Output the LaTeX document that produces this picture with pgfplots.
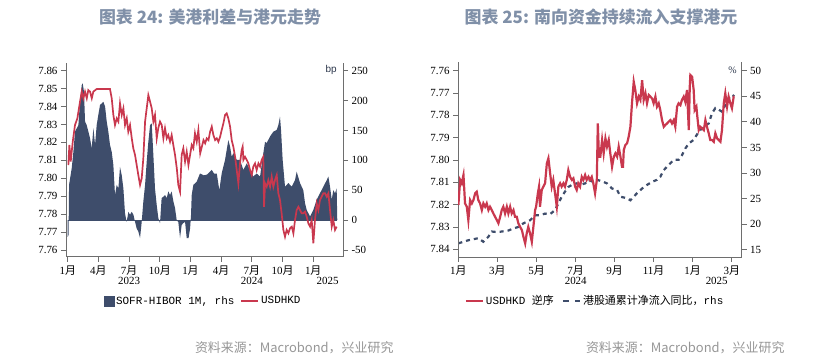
\documentclass[border=0pt]{standalone}
\usepackage{pgfplots}
\pgfplotsset{compat=1.18}
\usepackage{fontspec}
\setmainfont{Liberation Serif}
\setmonofont{Liberation Mono}
\newfontfamily\cjk{Noto Sans CJK SC}
\newfontfamily\lsans{Liberation Sans}
\definecolor{navy}{RGB}{62,77,107}
\definecolor{hkred}{RGB}{201,56,78}
\definecolor{axgray}{RGB}{110,110,110}
\definecolor{titlec}{RGB}{128,144,168}
\definecolor{srcgray}{RGB}{150,150,150}
\newcommand{\yue}{{\cjk 月}}
\pgfplotsset{
  base/.style={scale only axis, tick align=outside, major tick length=5bp,
    axis line style={axgray, line width=1bp},
    tick style={axgray, line width=1bp},
    tick label style={font=\fontsize{11}{12}\selectfont, text=black},
    /pgf/number format/assume math mode=true,
  },
}
\begin{document}
\begin{tikzpicture}
\path[use as bounding box] (0,0) rectangle (818bp,360bp);
% titles
\node[font=\cjk\bfseries\fontsize{17}{20}\selectfont, text=titlec] at (210bp,343bp) {图表 24: 美港利差与港元走势};
\node[font=\cjk\bfseries\fontsize{17}{20}\selectfont, text=titlec] at (601bp,343bp) {图表 25: 南向资金持续流入支撑港元};
\node[font=\cjk\fontsize{13}{15}\selectfont, text=srcgray, anchor=east] at (397bp,12bp) {资料来源：Macrobond，兴业研究};
\node[font=\cjk\fontsize{13}{15}\selectfont, text=srcgray, anchor=east] at (788bp,12bp) {资料来源：Macrobond，兴业研究};

%================ LEFT CHART =================
\begin{axis}[base, at={(66bp,103bp)}, anchor=south west, width=277bp, height=194bp,
  xmin=-0.17, xmax=26.91, ymin=-61.7, ymax=262.9,
  axis x line=none, axis y line*=right,
  ytick={-50,0,50,100,150,200,250}]
\addplot[fill=navy, draw=none] coordinates {
(0.0,-28) (0.08,-25) (0.13,59) (0.39,87) (0.55,114) (0.71,148) (1.04,159) (1.2,198) (1.37,226) (1.46,229) (1.59,215) (1.69,165) (1.85,159) (2.02,148) (2.18,137) (2.34,120) (2.51,154) (2.67,126) (2.83,159) (2.99,176) (3.16,193) (3.32,195) (3.48,198) (3.65,190) (3.81,165) (3.97,148) (4.13,126) (4.3,114) (4.46,92) (4.62,42) (4.79,59) (4.95,53) (5.11,89) (5.28,75) (5.44,53) (5.6,11) (5.76,-3) (5.93,14) (6.09,9) (6.25,14) (6.42,9) (6.58,-3) (6.74,-14) (6.9,-19) (7.07,-30) (7.23,-3) (7.39,31) (7.56,59) (7.72,98) (7.88,131) (8.05,159) (8.21,162) (8.37,109) (8.53,53) (8.7,25) (8.86,3) (9.02,-5) (9.18,37) (9.35,39) (9.51,42) (9.67,37) (9.84,48) (10.0,42) (10.16,48) (10.33,31) (10.49,20) (10.65,0) (10.81,-3) (10.98,-30) (11.14,-8) (11.3,-5) (11.47,-3) (11.63,-30) (11.81,-30) (11.96,-14) (12.05,8) (12.12,42) (12.28,59) (12.6,64) (12.93,78) (13.3,75) (13.59,76) (13.85,80) (14.08,84) (14.3,78) (14.57,78) (14.82,50) (15.05,78) (15.38,101) (15.7,134) (15.87,123) (16.03,106) (16.19,112) (16.52,101) (16.84,101) (17.17,84) (17.5,95) (17.82,84) (18.14,73) (18.47,78) (18.8,73) (19.12,112) (19.29,131) (19.45,129) (19.78,140) (20.1,148) (20.43,151) (20.59,159) (20.75,173) (20.85,151) (21.01,101) (21.24,56) (21.57,62) (21.9,56) (22.22,67) (22.38,81) (22.71,62) (23.03,50) (23.2,28) (23.36,17) (23.69,6) (24.01,17) (24.34,34) (24.66,45) (24.99,56) (25.32,67) (25.48,73) (25.64,56) (25.81,34) (25.96,50) (26.13,45) (26.29,53) (26.35,0)
} \closedcycle;
\addplot[navy, line width=0.8bp] coordinates {(0,0) (26.35,0)};
\node[font=\lsans\fontsize{10}{11}\selectfont, text=navy!70!black] at (rel axis cs:0.957,0.964) {bp};
\end{axis}

\begin{axis}[base, at={(66bp,103bp)}, anchor=south west, width=277bp, height=194bp,
  xmin=-0.17, xmax=26.91, ymin=7.7561, ymax=7.8643,
  axis x line*=bottom, axis y line*=left,
  xtick={0,3,6,9,12,15,18,21,24},
  xticklabels={1\yue,4\yue,7\yue,10\yue,1\yue,4\yue,7\yue,10\yue,1\yue},
  extra x ticks={6,18,25.4}, extra x tick labels={2023,2024,2025},
  extra x tick style={major tick length=0pt, tick label style={yshift=-17bp}},
  ytick={7.76,7.77,7.78,7.79,7.80,7.81,7.82,7.83,7.84,7.85,7.86},
  yticklabel style={/pgf/number format/fixed, /pgf/number format/fixed zerofill, /pgf/number format/precision=2},
  legend style={at={(0.495,-0.227)}, anchor=center, draw=none, fill=none, legend columns=-1,
    font=\ttfamily\fontsize{11}{12}\selectfont,
    /tikz/every even column/.append style={column sep=4bp}},
  legend cell align=left]
\addlegendimage{legend image code/.code={\fill[navy] (0bp,-5bp) rectangle (10bp,5bp);}}
\addlegendentry{SOFR-HIBOR 1M, rhs}
\addplot[hkred, line width=1.7bp] coordinates {
(0.06,7.8074) (0.16,7.8186) (0.29,7.8093) (0.49,7.8204) (0.71,7.8297) (0.94,7.8334) (1.2,7.8427) (1.37,7.8483) (1.53,7.8446) (1.69,7.8483) (1.86,7.8446) (2.01,7.8492) (2.18,7.8483) (2.35,7.8446) (2.5,7.8483) (2.83,7.8498) (3.5,7.8498) (4.13,7.8498) (4.3,7.8446) (4.46,7.8353) (4.62,7.8297) (4.79,7.8334) (4.95,7.8316) (5.11,7.8418) (5.28,7.8353) (5.44,7.839) (5.6,7.8297) (5.77,7.8334) (5.92,7.826) (6.09,7.8297) (6.26,7.8223) (6.41,7.8167) (6.58,7.813) (6.74,7.8074) (6.9,7.8018) (7.07,7.7963) (7.23,7.80) (7.39,7.8111) (7.56,7.8316) (7.72,7.839) (7.88,7.8464) (8.05,7.8427) (8.21,7.839) (8.37,7.8316) (8.53,7.8353) (8.7,7.8223) (8.85,7.8279) (9.02,7.8316) (9.19,7.8297) (9.35,7.8223) (9.51,7.8279) (9.68,7.8223) (9.83,7.8241) (10.0,7.8204) (10.16,7.8241) (10.32,7.8186) (10.49,7.813) (10.66,7.8056) (10.81,7.7963) (10.98,7.7925) (11.14,7.813) (11.3,7.8167) (11.47,7.8093) (11.63,7.8148) (11.8,7.8074) (11.96,7.813) (12.12,7.8186) (12.28,7.8167) (12.44,7.8251) (12.61,7.8204) (12.77,7.8269) (12.95,7.8139) (13.11,7.8176) (13.27,7.8213) (13.43,7.8195) (13.59,7.8223) (13.76,7.8213) (13.92,7.826) (14.08,7.8288) (14.24,7.8241) (14.41,7.8213) (14.57,7.8223) (14.73,7.8204) (14.9,7.8232) (15.05,7.8269) (15.22,7.8307) (15.38,7.8353) (15.54,7.8362) (15.7,7.8334) (15.87,7.8288) (16.03,7.8213) (16.19,7.8176) (16.36,7.812) (16.52,7.8046) (16.68,7.7972) (16.84,7.8083) (17.01,7.8158) (17.1,7.8176) (17.17,7.8102) (17.33,7.812) (17.5,7.8102) (17.66,7.8083) (17.82,7.8046) (17.99,7.8018) (18.14,7.8065) (18.31,7.8083) (18.47,7.8046) (18.64,7.8083) (18.8,7.8065) (18.96,7.8102) (19.12,7.812) (19.19,7.7841) (19.29,7.7972) (19.45,7.7953) (19.61,7.799) (19.78,7.7953) (19.94,7.8009) (20.1,7.7953) (20.26,7.799) (20.43,7.8018) (20.59,7.7916) (20.75,7.7879) (20.91,7.7805) (21.08,7.7712) (21.24,7.7674) (21.4,7.7712) (21.57,7.7693) (21.73,7.7721) (21.9,7.773) (22.06,7.7693) (22.22,7.7767) (22.38,7.7823) (22.55,7.7841) (22.71,7.7823) (22.87,7.7805) (23.03,7.7805) (23.2,7.7814) (23.36,7.7786) (23.52,7.7749) (23.69,7.773) (23.85,7.7767) (24.01,7.7637) (24.17,7.7767) (24.34,7.786) (24.5,7.7823) (24.66,7.7879) (24.82,7.7897) (24.99,7.7916) (25.15,7.7916) (25.32,7.7897) (25.48,7.7916) (25.64,7.7823) (25.81,7.773) (25.96,7.7767) (26.13,7.7712) (26.29,7.773)
};
\addlegendentry{USDHKD}
\end{axis}

%================ RIGHT CHART =================
\begin{axis}[base, at={(458bp,103bp)}, anchor=south west, width=283.7bp, height=195bp,
  xmin=-0.02, xmax=14.51, ymin=13.63, ymax=51.7,
  axis x line=none, axis y line*=right,
  ytick={15,20,25,30,35,40,45,50}]
\addplot[navy, line width=2.2bp, dash pattern=on 4bp off 4bp] coordinates {
(0.0,16.3) (0.51,16.9) (1.02,17.3) (1.28,16.6) (1.54,17.6) (1.71,18.6) (1.97,18.5) (2.22,18.6) (2.56,18.8) (2.82,19.2) (3.07,19.5) (3.33,20.2) (3.5,20.5) (3.67,20.8) (3.93,21.8) (4.18,21.8) (4.44,22.1) (4.7,22.0) (4.95,22.8) (5.12,24.1) (5.29,25.4) (5.46,26.4) (5.63,27.3) (5.81,27.7) (6.06,28.0) (6.23,27.7) (6.49,28.0) (6.66,28.7) (6.83,28.4) (7.1,28.7) (7.36,28.4) (7.61,28.0) (7.87,27.0) (8.13,26.7) (8.3,25.4) (8.64,25.1) (8.81,24.7) (8.98,25.4) (9.15,26.1) (9.41,27.0) (9.66,27.7) (9.92,28.3) (10.17,28.7) (10.34,29.3) (10.52,30.6) (10.77,31.6) (11.03,32.6) (11.28,32.6) (11.45,33.5) (11.62,34.8) (11.8,35.8) (12.05,36.5) (12.31,38.1) (12.57,39.1) (12.82,39.7) (12.99,41.7) (13.16,42.7) (13.33,42.4) (13.5,42.0) (13.67,43.3) (13.84,44.6) (14.01,45.3) (14.13,45.0)
};
\node[font=\fontsize{10}{11}\selectfont, text=navy!70!black] at (rel axis cs:0.968,0.959) {\%};
\end{axis}

\begin{axis}[base, at={(458bp,103bp)}, anchor=south west, width=283.7bp, height=195bp,
  xmin=-0.02, xmax=14.51, ymin=7.7561, ymax=7.8434, y dir=reverse,
  axis x line*=bottom, axis y line*=left,
  xtick={0,2,4,6,8,10,12,14},
  xticklabels={1\yue,3\yue,5\yue,7\yue,9\yue,11\yue,1\yue,3\yue},
  extra x ticks={6.01,13.23}, extra x tick labels={2024,2025},
  extra x tick style={major tick length=0pt, tick label style={yshift=-17bp}},
  ytick={7.76,7.77,7.78,7.79,7.80,7.81,7.82,7.83,7.84},
  yticklabel style={/pgf/number format/fixed, /pgf/number format/fixed zerofill, /pgf/number format/precision=2},
  legend style={at={(0.483,-0.226)}, anchor=center, draw=none, fill=none, legend columns=-1,
    font=\ttfamily\fontsize{11}{12}\selectfont,
    /tikz/every even column/.append style={column sep=6bp}},
  legend cell align=left]
\addplot[hkred, line width=2.2bp] coordinates {
(0.0,7.8201) (0.09,7.8089) (0.17,7.8104) (0.26,7.8067) (0.34,7.8194) (0.43,7.8209) (0.51,7.8269) (0.6,7.8179) (0.69,7.8194) (0.77,7.8179) (0.86,7.8149) (0.94,7.8142) (1.02,7.8179) (1.11,7.8194) (1.2,7.8224) (1.28,7.8194) (1.37,7.8209) (1.45,7.8194) (1.54,7.8224) (1.62,7.8209) (1.71,7.8224) (1.79,7.8239) (1.88,7.8254) (1.97,7.8269) (2.05,7.8283) (2.14,7.8254) (2.22,7.8224) (2.3,7.8209) (2.39,7.8239) (2.48,7.8209) (2.56,7.8239) (2.65,7.8209) (2.73,7.8239) (2.82,7.8224) (2.9,7.8254) (2.99,7.8254) (3.07,7.8283) (3.16,7.8299) (3.25,7.8313) (3.33,7.8343) (3.42,7.8373) (3.5,7.8328) (3.58,7.8299) (3.67,7.8328) (3.76,7.8366) (3.84,7.8299) (3.93,7.8224) (3.98,7.8209) (4.07,7.8149) (4.13,7.8119) (4.18,7.8209) (4.27,7.8134) (4.35,7.8119) (4.44,7.8104) (4.53,7.8015) (4.61,7.7992) (4.7,7.806) (4.78,7.8119) (4.86,7.8089) (4.95,7.8149) (5.04,7.8209) (5.12,7.8119) (5.21,7.8104) (5.29,7.8119) (5.38,7.8104) (5.46,7.8119) (5.55,7.8089) (5.63,7.8045) (5.72,7.8075) (5.81,7.8089) (5.89,7.8082) (5.98,7.8119) (6.06,7.8134) (6.14,7.8104) (6.23,7.8119) (6.32,7.8075) (6.4,7.8089) (6.49,7.8067) (6.57,7.8089) (6.66,7.8075) (6.74,7.8089) (6.83,7.8075) (6.91,7.8104) (7.0,7.8149) (7.09,7.8089) (7.14,7.7836) (7.2,7.7985) (7.27,7.7985) (7.36,7.791) (7.44,7.797) (7.53,7.7903) (7.61,7.794) (7.7,7.791) (7.78,7.797) (7.87,7.803) (7.96,7.7985) (8.04,7.797) (8.13,7.7985) (8.21,7.794) (8.3,7.7985) (8.38,7.803) (8.43,7.803) (8.47,7.7955) (8.55,7.7933) (8.64,7.7925) (8.72,7.7896) (8.81,7.7851) (8.89,7.7746) (8.98,7.7649) (9.06,7.7686) (9.15,7.7746) (9.24,7.7716) (9.32,7.7731) (9.41,7.7642) (9.49,7.7731) (9.58,7.7701) (9.66,7.7746) (9.75,7.7709) (9.83,7.7716) (9.92,7.7724) (10.0,7.7746) (10.09,7.7716) (10.17,7.7761) (10.26,7.7746) (10.34,7.7776) (10.43,7.7821) (10.52,7.7851) (10.6,7.7843) (10.69,7.7836) (10.77,7.7828) (10.86,7.7821) (10.94,7.7836) (11.03,7.7821) (11.11,7.7851) (11.2,7.7761) (11.28,7.7746) (11.37,7.7754) (11.45,7.7731) (11.54,7.7716) (11.62,7.7739) (11.71,7.7686) (11.8,7.7866) (11.85,7.7672) (11.88,7.7619) (11.97,7.7627) (12.05,7.7686) (12.1,7.7776) (12.19,7.7761) (12.22,7.7791) (12.31,7.7866) (12.39,7.7851) (12.48,7.7858) (12.57,7.7866) (12.65,7.7821) (12.73,7.7851) (12.82,7.788) (12.9,7.791) (12.99,7.791) (13.08,7.7918) (13.16,7.788) (13.25,7.7903) (13.33,7.791) (13.42,7.7918) (13.5,7.7866) (13.59,7.7746) (13.67,7.7701) (13.76,7.7761) (13.84,7.7716) (13.93,7.7746) (14.01,7.7768) (14.1,7.7716) (14.13,7.7716)
};
\addlegendentry{USDHKD {\cjk 逆序}}
\addlegendimage{navy, line width=2.2bp, dash pattern=on 6bp off 6bp}
\addlegendentry{{\cjk 港股通累计净流入同比，}rhs}
\end{axis}
\end{tikzpicture}
\end{document}
